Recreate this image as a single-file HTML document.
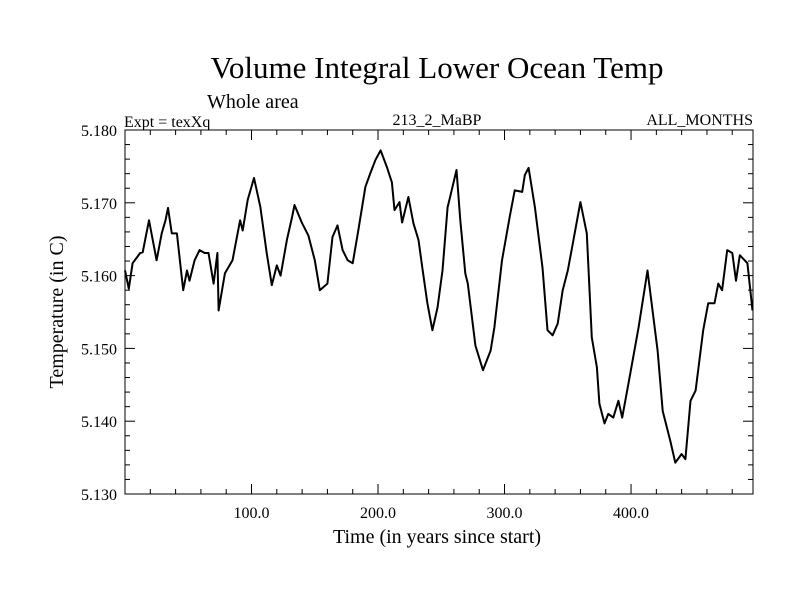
<!DOCTYPE html>
<html><head><meta charset="utf-8"><style>
html,body{margin:0;padding:0;background:#fff;}
svg{display:block;font-family:"Liberation Serif",serif;}
</style></head><body>
<svg id="chart" width="800" height="600" viewBox="0 0 800 600">
<text x="437" y="78" font-size="31" text-anchor="middle">Volume Integral Lower Ocean Temp</text>
<text x="207" y="108" font-size="20">Whole area</text>
<text x="124" y="127" font-size="16">Expt = texXq</text>
<text x="437" y="125" font-size="16" text-anchor="middle">213_2_MaBP</text>
<text x="753" y="125" font-size="16" text-anchor="end">ALL_MONTHS</text>
<text x="437" y="543" font-size="20" text-anchor="middle">Time (in years since start)</text>
<text transform="translate(63,312) rotate(-90)" font-size="20" text-anchor="middle">Temperature (in C)</text>
<g id="axes"></g>
<path id="series" fill="none" stroke="#000" stroke-width="2" stroke-linejoin="round"></path>
</svg>
<script>
const years=[0,3,6,12,14,19,25,29,32,34,37,41,46,49,51,55,59,63,66,70,73,74,79,85,91,93,97,102,107,112,116,120,123,128,132,134,140,145,150,154,160,164,168,172,176,180,184,190,194,198,202,207,211,213,217,219,224,228,232,235,239,243,247,251,255,257,262,265,269,271,277,283,289,292,298,304,308,314,316,319,324,330,334,338,342,346,350,354,360,365,369,373,375,379,382,386,390,393,398,406,413,421,425,431,435,440,443,447,451,457,461,466,469,472,476,480,483,486,492,496];
const temps=[5.1607,5.1582,5.1617,5.1631,5.1632,5.1676,5.1621,5.1658,5.1676,5.1693,5.1658,5.1658,5.1580,5.1607,5.1593,5.1621,5.1635,5.1631,5.1631,5.1589,5.1631,5.1552,5.1603,5.1621,5.1676,5.1662,5.1704,5.1734,5.1694,5.1631,5.1587,5.1614,5.1600,5.1649,5.1680,5.1697,5.1672,5.1655,5.1621,5.1580,5.1589,5.1653,5.1669,5.1635,5.1621,5.1617,5.1658,5.1722,5.1741,5.1759,5.1772,5.1749,5.1728,5.1690,5.1701,5.1673,5.1708,5.1672,5.1649,5.1611,5.1562,5.1525,5.1556,5.1607,5.1694,5.1708,5.1745,5.1676,5.1603,5.1589,5.1504,5.1470,5.1497,5.1529,5.1621,5.1680,5.1717,5.1715,5.1738,5.1748,5.1694,5.1611,5.1525,5.1518,5.1534,5.1580,5.1607,5.1644,5.1701,5.1658,5.1515,5.1474,5.1424,5.1397,5.1410,5.1405,5.1428,5.1405,5.1452,5.1529,5.1607,5.1497,5.1414,5.1373,5.1343,5.1355,5.1348,5.1428,5.1442,5.1525,5.1562,5.1562,5.1589,5.1580,5.1635,5.1631,5.1593,5.1628,5.1617,5.1552];
const xTicks=[100,200,300,400];
const xTickLabels=["100.0","200.0","300.0","400.0"];
const yTicks=[5.13,5.14,5.15,5.16,5.17,5.18];
const yTickLabels=["5.130","5.140","5.150","5.160","5.170","5.180"];

const L=125,R=753,T=130,B=494,X0=0,X1=496.4,Y0=5.13,Y1=5.18;
const sx=v=>L+(v-X0)/(X1-X0)*(R-L);
const sy=v=>B-(v-Y0)/(Y1-Y0)*(B-T);
const NS="http://www.w3.org/2000/svg";
const g=document.getElementById('axes');
function mk(tag,attrs){const e=document.createElementNS(NS,tag);for(const k in attrs)e.setAttribute(k,attrs[k]);g.appendChild(e);return e;}
const frame=mk('rect',{x:L,y:T,width:R-L,height:B-T,fill:'none',stroke:'#000','stroke-width':1});


for(let v=20;v<X1;v+=20){
  const major=v%100===0;const len=major?10:5;
  const t1=mk('line',{x1:sx(v),x2:sx(v),y1:B,y2:B-len,stroke:'#000','stroke-width':1});
  
  
  const t2=mk('line',{x1:sx(v),x2:sx(v),y1:T,y2:T+len,stroke:'#000','stroke-width':1});
  
  
}
xTicks.forEach((v,i)=>{
  const t=mk('text',{x:sx(v),y:B+24,'font-size':16,'text-anchor':'middle'});
  t.textContent=xTickLabels[i];
  
  
});
for(let k=0;k<=25;k++){
  const v=Y0+k*0.002;const major=k%5===0;const len=major?10:5;
  const t1=mk('line',{x1:L,x2:L+len,y1:sy(v),y2:sy(v),stroke:'#000','stroke-width':1});
  
  
  const t2=mk('line',{x1:R,x2:R-len,y1:sy(v),y2:sy(v),stroke:'#000','stroke-width':1});
  
  
}
yTicks.forEach((v,i)=>{
  const t=mk('text',{x:L-8,y:sy(v)+6,'font-size':16,'text-anchor':'end'});
  t.textContent=yTickLabels[i];
  
  
});
document.getElementById('series').setAttribute('d',years.map((y,i)=>(i?'L':'M')+sx(y).toFixed(1)+','+sy(temps[i]).toFixed(1)).join(''));
</script>
</body></html>
